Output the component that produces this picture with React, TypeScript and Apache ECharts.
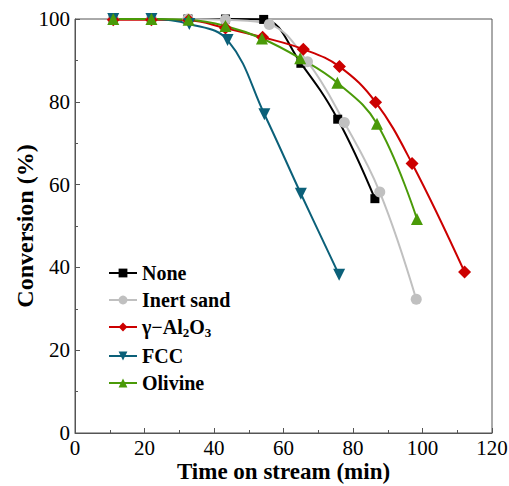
import React, { useEffect, useRef } from "react";
import * as echarts from "echarts";

const noneData: [number, number][] = [[11, 100], [22, 100], [32.5, 100], [43.3, 100], [54.3, 99.9], [65, 89.3], [75.6, 75.8], [86.3, 56.6]];
const sandData: [number, number][] = [[11, 100], [22, 100], [32.5, 100], [43.3, 99.8], [55.9, 98.7], [66.9, 89.7], [77.5, 75], [87.7, 58.2], [98.2, 32.3]];
const aluminaData: [number, number][] = [[11, 99.8], [22, 99.8], [32.7, 99.7], [43.3, 97.8], [54, 95.6], [65.7, 92.7], [76.1, 88.5], [86.5, 79.9], [97, 65.1], [112.1, 38.9]];
const fccData: [number, number][] = [[11, 100], [22, 100], [32.9, 98.8], [43.9, 94.9], [54.5, 77], [65, 57.8], [76, 38.2]];
const olivineData: [number, number][] = [[11, 100], [22, 100], [32.7, 99.8], [43.3, 98.3], [53.8, 95.3], [64.8, 90.5], [75.5, 84.6], [86.9, 74.7], [98.4, 51.7]];

const xTicks = [0, 20, 40, 60, 80, 100, 120];
const yTicks = [0, 20, 40, 60, 80, 100];

const FONT = "Liberation Serif";

export default function App() {
  const ref = useRef<HTMLDivElement>(null);
  useEffect(() => {
    if (!ref.current) return;
    const chart = echarts.init(ref.current, null, { renderer: "svg" });
    const mk = (name: string, data: [number, number][], color: string, symbol: string, size: number, rotate = 0) => ({
      name,
      type: "line",
      data,
      smooth: 0.4,
      symbol,
      symbolSize: size,
      symbolRotate: rotate,
      lineStyle: { color, width: 2 },
      itemStyle: { color },
      z: 2,
    });
    chart.setOption({
      animation: false,
      backgroundColor: "#fff",
      textStyle: { fontFamily: FONT },
      grid: {
        left: 75, right: 17, top: 19, bottom: 53,
        outerBoundsMode: "none",
        containLabel: false,
        show: true, borderColor: "#555", borderWidth: 1,
      },
      legend: {
        orient: "vertical",
        left: 103,
        top: 258,
        itemWidth: 28,
        itemHeight: 11,
        itemGap: 7,
        textStyle: {
          fontFamily: FONT,
          fontSize: 20,
          fontWeight: "bold",
          color: "#000",
          rich: {
            a: { fontFamily: FONT, fontSize: 20, fontWeight: "bold", color: "#000" },
            s: { fontFamily: FONT, fontSize: 13, fontWeight: "bold", color: "#000", padding: [11, 0, 0, 0] },
          },
        },
        formatter: (n: string) => (n === "γ-Al2O3" ? "{a|γ−Al}{s|2}{a|O}{s|3}" : n),
        data: ["None", "Inert sand", "γ-Al2O3", "FCC", "Olivine"],
      },
      xAxis: {
        type: "value",
        min: 0,
        max: 120,
        interval: 20,
        name: "Time on stream (min)",
        nameLocation: "middle",
        nameGap: 27,
        nameMoveOverlap: false,
        nameTextStyle: { fontFamily: FONT, fontSize: 23, fontWeight: "bold", color: "#000" },
        axisLine: { lineStyle: { color: "#555", width: 1 } },
        axisTick: { inside: true, length: 5, lineStyle: { color: "#555" } },
        minorTick: { show: true, splitNumber: 2, length: 3, lineStyle: { color: "#555" } },
        axisLabel: { fontFamily: FONT, fontSize: 21, color: "#000", margin: 4, customValues: xTicks },
        splitLine: { show: false },
      },
      yAxis: {
        type: "value",
        min: 0,
        max: 100,
        interval: 20,
        name: "Conversion (%)",
        nameLocation: "middle",
        nameGap: 38,
        nameMoveOverlap: false,
        nameTextStyle: { fontFamily: FONT, fontSize: 24, fontWeight: "bold", color: "#000" },
        axisLine: { show: true, lineStyle: { color: "#555", width: 1 } },
        axisTick: { show: true, inside: true, length: 5, lineStyle: { color: "#555" } },
        minorTick: { show: true, splitNumber: 2, length: 3, lineStyle: { color: "#555" } },
        axisLabel: { fontFamily: FONT, fontSize: 21, color: "#000", margin: 5, customValues: yTicks },
        splitLine: { show: false },
      },
      series: [
        mk("None", noneData, "#000000", "rect", 9),
        mk("Inert sand", sandData, "#c0c0c0", "circle", 11),
        mk("γ-Al2O3", aluminaData, "#cc0000", "diamond", 13),
        mk("FCC", fccData, "#0b6079", "triangle", 12, 180),
        mk("Olivine", olivineData, "#4a9a08", "triangle", 12),
      ],
    });
    return () => chart.dispose();
  }, []);
  return <div ref={ref} style={{ position: "absolute", left: 0, top: 0, width: 509, height: 486 }} />;
}
